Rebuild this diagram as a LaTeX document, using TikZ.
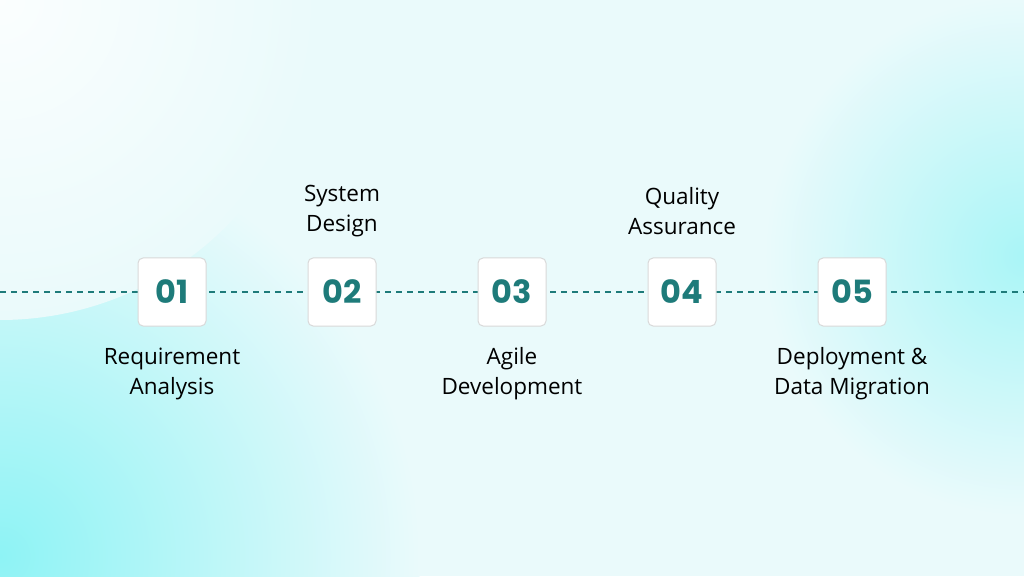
\documentclass[tikz,border=0pt]{standalone}
\usepackage{fontspec}
\setmainfont{Open Sans}
\newfontfamily\numfont{Poppins}
\definecolor{teal1}{HTML}{1E7B7A}
\definecolor{bgA}{HTML}{EAFAFB}
\definecolor{bgB}{HTML}{8EF3F5}
\tikzset{
 numbox/.style={draw=black!15,line width=1pt,fill=white,rounded corners=5pt,minimum width=68pt,minimum height=68pt,font=\numfont\bfseries\fontsize{32}{32}\selectfont,text=teal1},
 lbl/.style={align=center,font=\fontsize{22.5}{30}\selectfont,text=black}
}
\begin{document}
\begin{tikzpicture}[x=1pt,y=1pt]
\useasboundingbox (0,0) rectangle (1024,576);
\fill[bgA] (0,0) rectangle (1024,576);
\begin{scope}
\clip (0,0) rectangle (1024,576);
\shade[inner color=bgB,outer color=bgA] (0,20) circle (420);
\shade[inner color=bgB!70!bgA,outer color=bgA] (1024,320) circle (260);
\shade[inner color=white!80!bgA,outer color=bgA] (0,576) circle (320);
\end{scope}
\coordinate (L) at (0,284);
\coordinate (R) at (1024,284);
\draw[teal1,line width=1.3pt,dash pattern=on 6pt off 5pt] (L) -- (R);
\foreach \i/\x in {1/172,2/342,3/512,4/682,5/852}{
 \node[numbox] (b\i) at (\x,284) {0\i};
}
\node[lbl] (t1) at (172,202) {Requirement\\Analysis};
\node[lbl] (t2) at (342,365) {System\\Design};
\node[lbl] (t3) at (512,202) {Agile\\Development};
\node[lbl] (t4) at (682,365) {Quality\\Assurance};
\node[lbl] (t5) at (852,202) {Deployment \&\\Data Migration};
\end{tikzpicture}
\end{document}
